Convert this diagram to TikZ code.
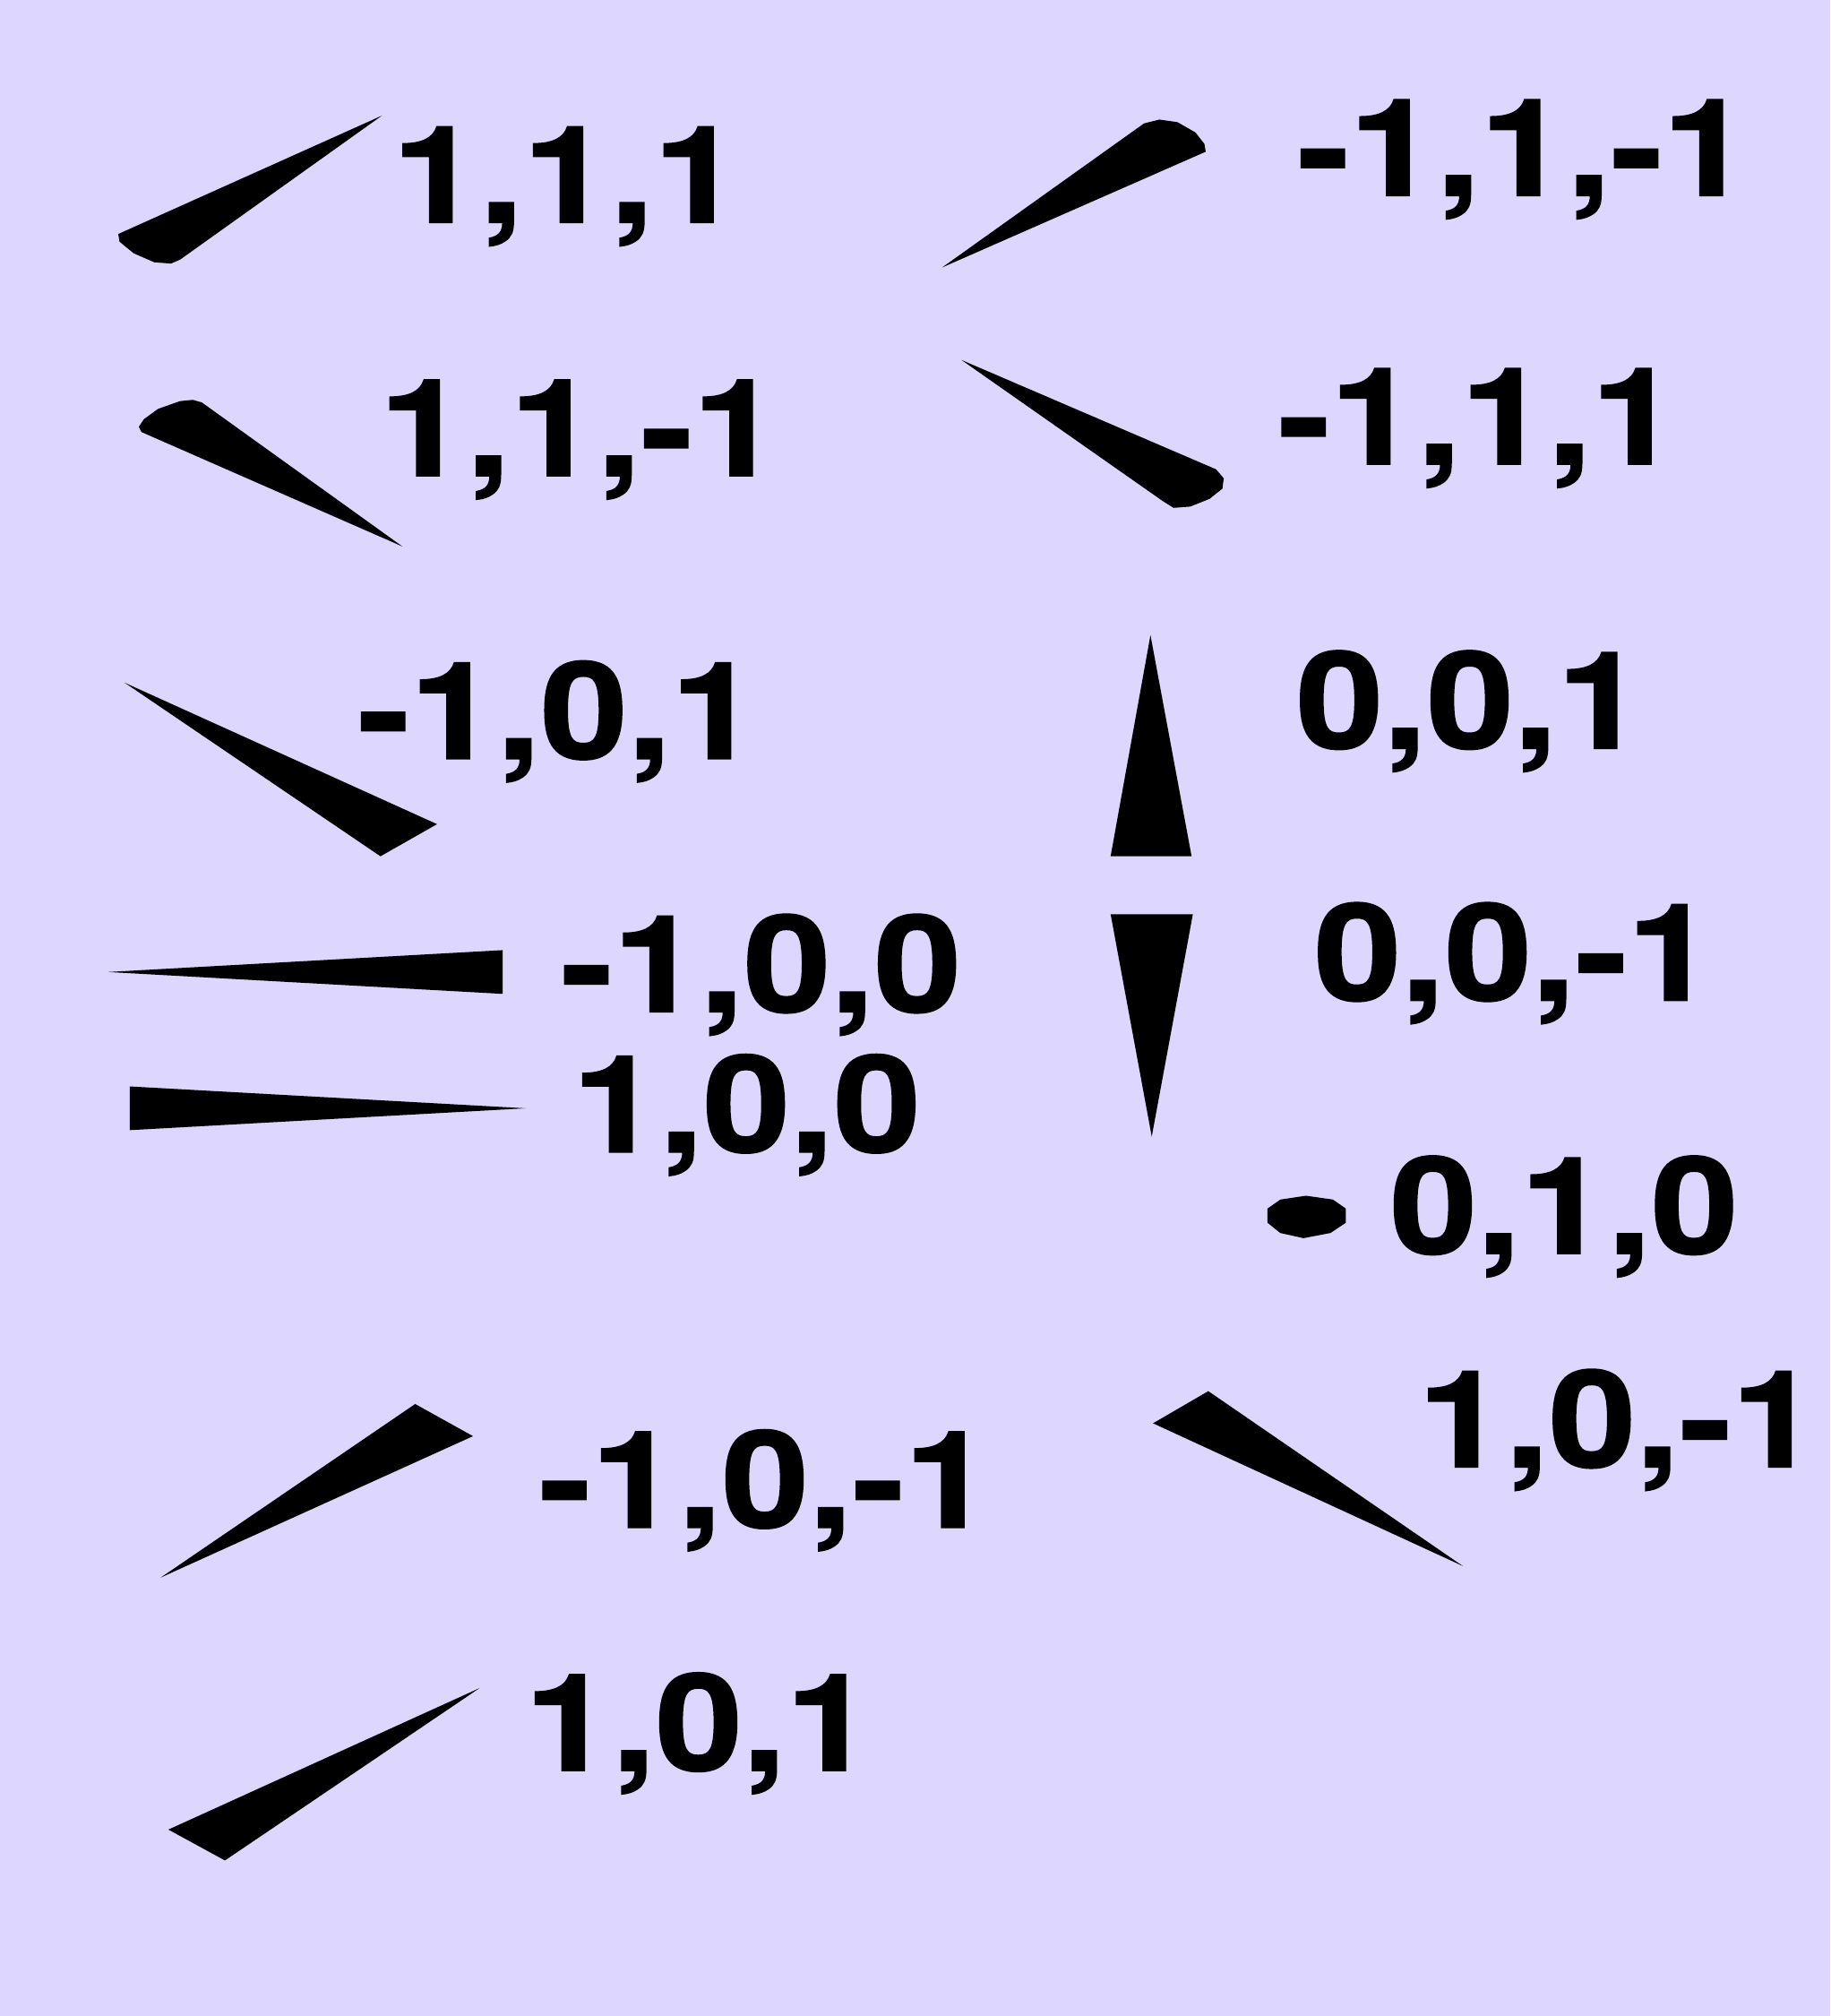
\documentclass[tikz,border=0pt]{standalone}
\usepackage{fontspec}
\setmainfont{TeX Gyre Heros}[BoldFeatures={FakeBold=1.2}]
\definecolor{bgc}{RGB}{221,215,255}
\newcommand{\wlbl}[1]{\scalebox{1.16}[1]{#1}}
\begin{document}
\begin{tikzpicture}[x=0.5pt,y=-0.5pt,
  lbl/.style={anchor=base west,inner sep=0pt,font=\fontsize{52.5pt}{60pt}\selectfont\bfseries},
  wedge/.style={fill=black,draw=none}]
\fill[bgc] (0,0) rectangle (1424,1568);
\useasboundingbox (0,0) rectangle (1424,1568);
% wedges
\fill[wedge] (297,90) -- (92,182) -- (93,188) -- (104,197) -- (120,204) -- (133,205) -- (140,202) -- cycle;
\fill[wedge] (733,208) -- (890,96) -- (902,93) -- (916,95) -- (930,103) -- (937,112) -- (938,118) -- cycle;
\fill[wedge] (748,280) -- (946,365) -- (952,372) -- (951,380) -- (941,388) -- (926,394) -- (913,395) -- (905,390) -- cycle;
\fill[wedge] (313,425) -- (157,313) -- (150,311) -- (140,312) -- (123,318) -- (112,326) -- (108,332) -- (110,336) -- cycle;
\fill[wedge] (97,531) -- (340,641) -- (296,666) -- cycle;
\fill[wedge] (84,756) -- (391,739) -- (391,773) -- cycle;
\fill[wedge] (409,862) -- (101,845) -- (101,879) -- cycle;
\fill[wedge] (895,494) -- (927,666) -- (864,666) -- cycle;
\fill[wedge] (896,884) -- (864,711) -- (928,711) -- cycle;
\fill[wedge] (986,940) -- (986,951) -- (996,959) -- (1014,963) -- (1035,959) -- (1047,951) -- (1047,940) -- (1037,933) -- (1016,930) -- (996,933) -- cycle;
\fill[wedge] (1138,1218) -- (897,1107) -- (940,1082) -- cycle;
\fill[wedge] (125,1227) -- (323,1092) -- (368,1117) -- cycle;
\fill[wedge] (373,1313) -- (131,1423) -- (175,1447) -- cycle;
% labels
\node[lbl] (l1) at (305,173) {\wlbl{1,1,1}};
\node[lbl] (l2) at (1009,152) {\wlbl{-1,1,-1}};
\node[lbl] (l3) at (295,370) {\wlbl{1,1,-1}};
\node[lbl] (l4) at (994,361) {\wlbl{-1,1,1}};
\node[lbl] (l5) at (278,590) {\wlbl{-1,0,1}};
\node[lbl] (l6) at (1008,582) {\wlbl{0,0,1}};
\node[lbl] (l7) at (436,787) {\wlbl{-1,0,0}};
\node[lbl] (l8) at (1022,778) {\wlbl{0,0,-1}};
\node[lbl] (l9) at (445,896) {\wlbl{1,0,0}};
\node[lbl] (l10) at (1081,975) {\wlbl{0,1,0}};
\node[lbl] (l11) at (1103,1141) {\wlbl{1,0,-1}};
\node[lbl] (l12) at (419,1188) {\wlbl{-1,0,-1}};
\node[lbl] (l13) at (408,1377) {\wlbl{1,0,1}};
\end{tikzpicture}
\end{document}
